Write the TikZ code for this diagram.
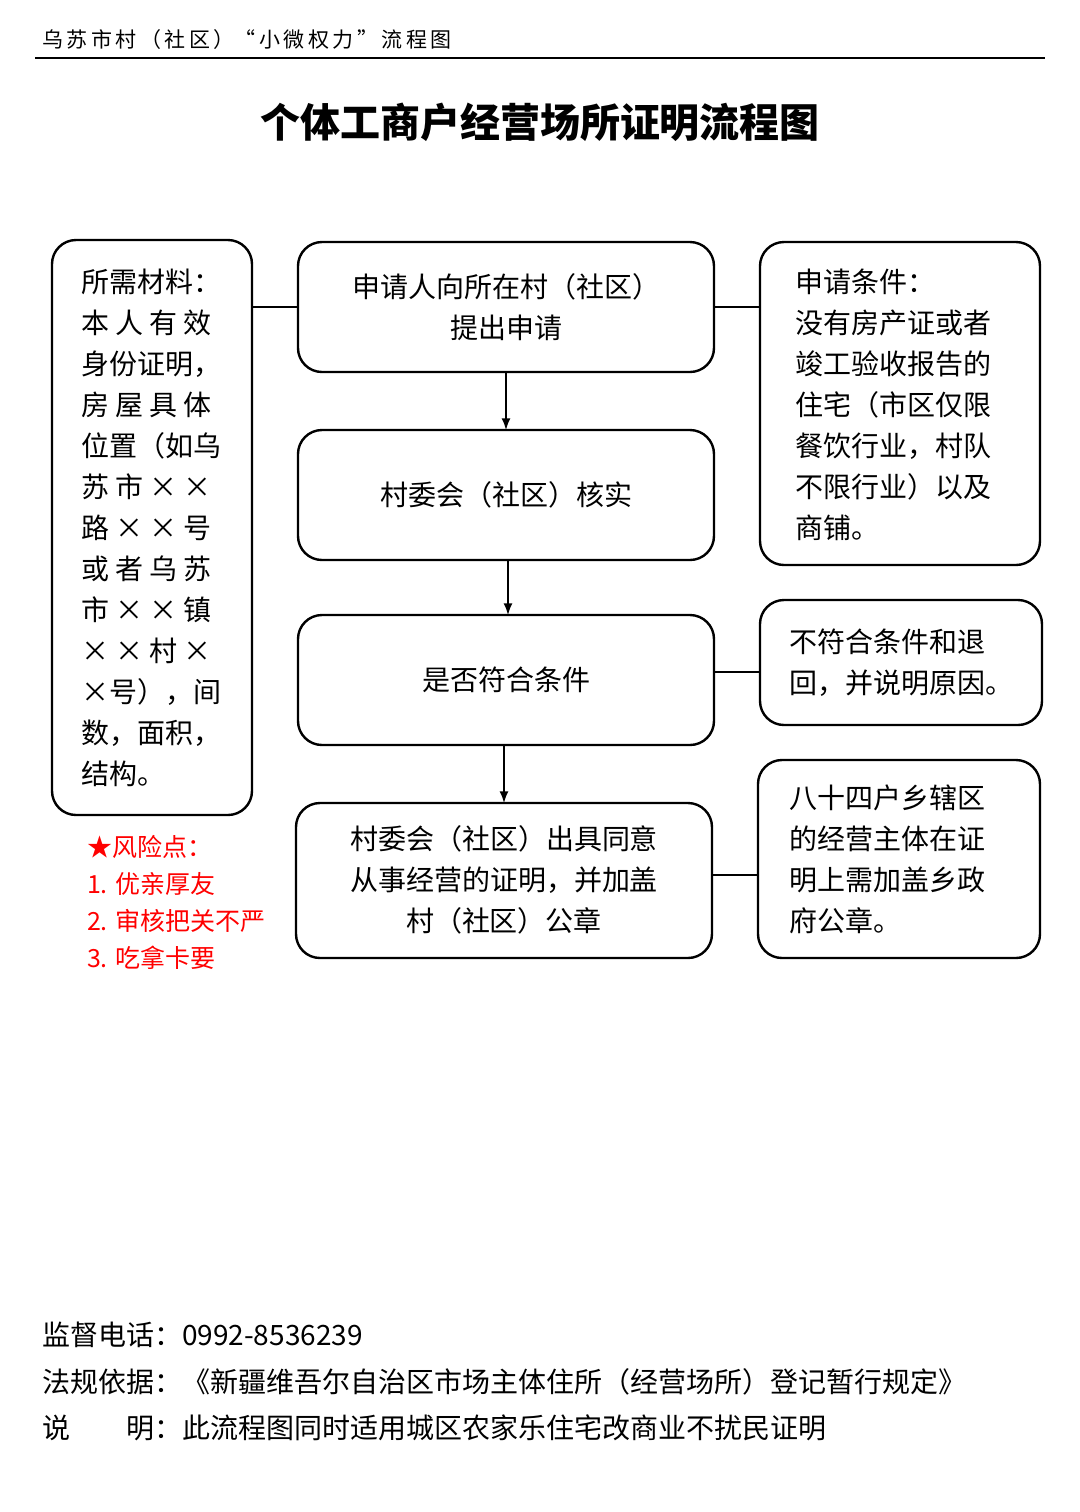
\documentclass[tikz,border=0pt]{standalone}
\usepackage{fontspec}
\setmainfont{Noto Sans CJK SC}
\usetikzlibrary{positioning}
\tikzset{
  box/.style={draw, line width=1.2pt, rounded corners=12pt, inner sep=0pt},
  txt/.style={font=\fontsize{14}{20.5}\selectfont, align=center},
  link/.style={line width=1pt},
  arr/.style={line width=1pt, -latex}
}
\begin{document}
\begin{tikzpicture}[x=0.5pt, y=-0.5pt]
\useasboundingbox[fill=white] (0,0) rectangle (1080,1512);
% header
\node[anchor=west, font=\fontsize{10.5}{12}\selectfont] (head) at (35,40) {乌\,苏\,市\,村\,（\,社\,区\,）“\,小\,微\,权\,力\,”\,流\,程\,图};
\draw[line width=0.8pt] (35,58) -- (1045,58);
\node[font=\fontsize{20}{24}\selectfont\bfseries] (title) at (540,122) {个体工商户经营场所证明流程图};
% left column
\draw[box] (52,240) rectangle (252,815);
\node[txt, anchor=north west, align=left] (mat) at (74,262) {所需材料：\\本\ 人\ 有\ 效\\身份证明，\\房\ 屋\ 具\ 体\\位置（如乌\\苏\ 市\ ×\ ×\\路\ ×\ ×\ 号\\或\ 者\ 乌\ 苏\\市\ ×\ ×\ 镇\\×\ ×\ 村\ ×\\×号），间\\数，面积，\\结构。};
\coordinate (matR) at (252,307);
\node[anchor=north west, align=left, text=red, font=\fontsize{12.5}{18.5}\selectfont] (risk) at (80,828) {★风险点：\\1. 优亲厚友\\2. 审核把关不严\\3. 吃拿卡要};
% centre column
\draw[box] (298,242) rectangle (714,372);
\node[txt] (s1) at (506,307) {申请人向所在村（社区）\\提出申请};
\draw[box] (298,430) rectangle (714,560);
\node[txt] (s2) at (506,495) {村委会（社区）核实};
\draw[box] (298,615) rectangle (714,745);
\node[txt] (s3) at (506,680) {是否符合条件};
\draw[box] (296,803) rectangle (712,958);
\node[txt] (s4) at (504,880) {村委会（社区）出具同意\\从事经营的证明，并加盖\\村（社区）公章};
% right column
\draw[box] (760,242) rectangle (1040,565);
\node[txt, anchor=north west, align=left] (cond) at (788,262) {申请条件：\\没有房产证或者\\竣工验收报告的\\住宅（市区仅限\\餐饮行业，村队\\不限行业）以及\\商铺。};
\draw[box] (760,600) rectangle (1042,725);
\node[txt, anchor=west, align=left] (rej) at (782,663) {不符合条件和退\\回，并说明原因。};
\draw[box] (758,760) rectangle (1040,958);
\node[txt, anchor=north west, align=left] (town) at (782,778) {八十四户乡辖区\\的经营主体在证\\明上需加盖乡政\\府公章。};
% connectors
\draw[link] (252,307) -- (298,307);
\draw[link] (714,307) -- (760,307);
\draw[link] (714,672) -- (760,672);
\draw[link] (712,875) -- (758,875);
\draw[arr] (506,372) -- (506,430);
\draw[arr] (508,560) -- (508,615);
\draw[arr] (504,745) -- (504,803);
% footer
\node[anchor=west, font=\fontsize{14}{16}\selectfont] (tel) at (35,1335) {监督电话：0992-8536239};
\node[anchor=west, font=\fontsize{14}{16}\selectfont] (law) at (35,1382) {法规依据：《新疆维吾尔自治区市场主体住所（经营场所）登记暂行规定》};
\node[anchor=west, font=\fontsize{14}{16}\selectfont] (note) at (35,1428) {说\hspace{2em}明：此流程图同时适用城区农家乐住宅改商业不扰民证明};
\end{tikzpicture}
\end{document}
